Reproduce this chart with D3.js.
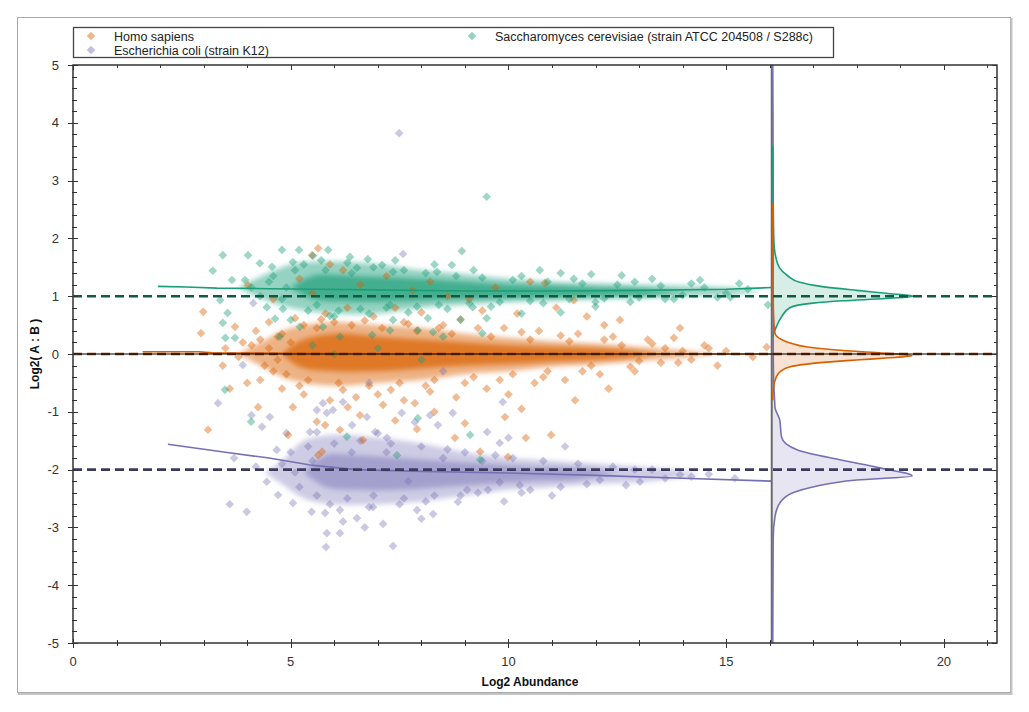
<!DOCTYPE html>
<html>
<head>
<meta charset="utf-8">
<script src="https://cdn.jsdelivr.net/npm/d3@7"></script>
<style>
body { margin: 0; background: #fff; }
text { font-family: "Liberation Sans", Arial, sans-serif; }
</style>
</head>
<body>
<div id="chart"></div>
<script>
// series names + colours
const seriesNames = ["Homo sapiens", "Escherichia coli (strain K12)", "Saccharomyces cerevisiae (strain ATCC 204508 / S288c)"];
const seriesColors = ["#d95f02", "#7570b3", "#1b9e77"];
const refColors = ["#7a3a0a", "#3b3a5e", "#0e5a43"];
const refValues = [0, -2, 1];

const xTicks = [0, 5, 10, 15, 20];
const yTicks = [-5, -4, -3, -2, -1, 0, 1, 2, 3, 4, 5];

// scatter points [log2 abundance, log2 ratio]
const homoPts = [[5.63,1.83],[5.49,1.71],[5.9,1.55],[6.2,1.45],[2.99,0.73],[2.94,0.36],[3.72,0.47],[3.44,-0.2],[4.02,1.19],[4.6,0.95],[5.2,1.3],[5.5,1.05],[6.6,1.2],[7.2,1.35],[7.8,1.1],[8.2,1.25],[8.6,1.0],[9.1,0.95],[9.7,1.15],[10.84,1.23],[10.5,1.25],[11.5,0.93],[11.1,0.8],[12.56,0.59],[13.94,0.45],[13.8,0.28],[12.2,0.5],[11.8,0.65],[10.2,0.7],[9.4,0.75],[8.9,0.6],[8.0,0.72],[7.4,0.8],[6.9,0.65],[6.3,0.8],[5.8,0.7],[5.1,0.62],[4.5,0.55],[4.2,0.4],[3.9,0.2],[4.7,0.3],[5.3,0.5],[6.0,0.55],[7.6,0.55],[8.4,0.45],[9.9,0.45],[10.7,0.4],[11.6,0.35],[12.4,0.3],[13.2,0.25],[14.5,0.15],[15.0,0.05],[15.61,-0.05],[15.93,0.12],[14.2,-0.1],[14.8,-0.2],[13.5,-0.15],[12.9,-0.3],[12.1,-0.35],[11.3,-0.45],[10.6,-0.5],[11.53,-0.8],[12.3,-0.6],[10.0,-0.7],[9.5,-0.6],[8.8,-0.75],[8.2,-0.65],[7.6,-0.8],[7.0,-0.7],[6.5,-0.75],[5.9,-0.8],[5.3,-0.7],[4.8,-0.6],[4.3,-0.45],[4.0,-0.5],[3.6,-0.6],[4.25,-0.92],[5.05,-0.92],[4.94,-1.4],[5.6,-1.17],[5.79,-1.23],[5.72,-1.69],[6.31,-0.92],[6.59,-1.06],[7.12,-0.88],[7.85,-0.85],[8.77,-1.45],[9.35,-1.69],[9.92,-1.09],[9.99,-1.78],[10.4,-1.45],[10.98,-1.4],[6.13,-1.31],[3.1,-1.31],[7.4,-1.15],[8.3,-1.0],[9.0,-1.2],[10.3,-0.95],[5.63,-1.75],[6.66,-1.49],[7.9,-1.3],[4.5,0.1],[4.4,-0.2],[4.8,0.35],[4.9,-0.35],[5.4,-0.45],[5.6,0.45],[6.1,-0.5],[6.4,0.5],[6.8,-0.55],[7.1,0.45],[7.5,-0.5],[7.9,0.4],[8.3,-0.45],[8.7,0.35],[9.2,-0.4],[9.6,0.3],[10.1,-0.35],[10.5,0.25],[10.9,-0.3],[11.4,0.22],[11.9,-0.2],[12.6,0.15],[13.0,-0.12],[13.6,0.1],[14.0,0.05],[3.5,0.1],[3.8,-0.05],[4.1,0.15],[4.6,-0.3],[5.0,0.2],[5.2,-0.55],[5.7,0.6],[6.2,-0.62],[6.7,0.58],[7.3,-0.62],[7.7,0.52],[8.1,-0.55],[8.5,0.5],[9.0,-0.5],[9.3,0.45],[9.8,-0.45],[10.3,0.38],[10.8,-0.4],[11.2,0.32],[11.7,-0.3],[12.2,0.25],[12.8,-0.22],[13.3,0.18],[13.9,-0.15],[14.6,0.1],[4.3,0.25],[4.7,-0.1]];

const ecoliPts = [[7.49,3.82],[7.58,1.73],[4.14,0.88],[3.9,-0.19],[6.8,-0.5],[8.5,-0.3],[3.33,-0.85],[4.1,-1.06],[4.34,-1.26],[4.52,-1.09],[4.68,-1.66],[4.45,-2.21],[3.6,-2.6],[3.99,-2.73],[4.71,-2.44],[5.05,-2.58],[5.48,-2.73],[5.79,-2.75],[6.13,-2.7],[5.83,-3.1],[6.13,-3.1],[5.81,-3.34],[7.12,-2.94],[7.35,-3.32],[6.52,-2.84],[6.89,-2.65],[7.9,-2.7],[8.27,-2.77],[8.84,-2.56],[9.05,-2.35],[9.53,-2.35],[9.8,-2.22],[10.26,-2.27],[5.83,-1.02],[5.6,-0.97],[5.97,-0.97],[6.41,-1.23],[6.75,-1.09],[7.0,-1.37],[7.55,-1.02],[7.85,-1.18],[8.2,-1.06],[8.38,-1.23],[8.72,-1.02],[9.51,-1.35],[9.8,-1.54],[9.87,-0.83],[6.94,-1.35],[7.21,-1.45],[5.44,-1.35],[4.9,-1.37],[5.6,-1.35],[5.74,-0.85],[6.2,-0.83],[4.8,-1.9],[5.0,-1.7],[5.2,-2.3],[5.4,-1.6],[5.6,-2.45],[6.0,-1.55],[6.3,-2.5],[6.6,-1.5],[6.9,-2.45],[7.3,-1.55],[7.6,-2.5],[8.0,-1.6],[8.3,-2.45],[8.6,-1.65],[9.0,-1.7],[9.3,-2.4],[9.7,-1.75],[10.1,-1.8],[10.5,-2.35],[10.8,-1.85],[11.2,-2.3],[11.6,-1.9],[12.1,-2.18],[12.4,-1.95],[12.7,-2.27],[13.02,-2.21],[13.3,-2.0],[13.6,-2.15],[13.94,-2.09],[14.2,-2.12],[15.2,-2.15],[6.2,-2.9],[8.0,-2.85],[9.9,-2.55],[11.0,-2.45],[3.7,-1.8],[4.2,-1.95],[6.7,-3.0],[7.7,-2.2],[10.0,-1.45],[11.3,-1.6],[5.1,-2.05],[5.5,-1.85],[5.9,-2.6],[6.4,-1.7],[6.8,-2.65],[7.2,-1.7],[7.5,-2.6],[8.1,-2.55],[8.5,-1.8],[8.9,-2.45],[9.4,-1.85],[10.3,-2.4],[11.8,-2.25],[12.9,-2.0],[14.6,-2.08]];

const yeastPts = [[3.44,1.71],[3.21,1.44],[3.65,1.28],[3.95,1.28],[4.02,1.71],[4.29,1.57],[4.57,1.51],[4.8,1.8],[5.19,1.8],[5.86,1.8],[5.51,1.7],[5.05,1.59],[3.38,0.93],[3.55,0.71],[3.44,0.54],[3.72,0.28],[4.45,0.81],[4.64,0.61],[4.82,0.78],[4.75,0.3],[5.21,0.47],[5.0,0.59],[5.74,0.47],[5.9,0.66],[6.13,0.3],[6.87,0.33],[7.28,0.41],[7.92,0.41],[8.27,0.38],[8.9,0.59],[9.4,0.36],[8.93,1.78],[8.7,1.54],[8.36,1.42],[6.77,1.64],[7.1,1.54],[7.35,1.42],[6.36,1.68],[6.52,1.49],[7.28,0.85],[7.35,0.59],[8.15,0.62],[9.18,0.81],[9.5,0.62],[8.5,0.3],[9.5,2.72],[10.72,1.45],[11.2,1.4],[11.9,1.38],[12.6,1.36],[13.3,1.3],[14.4,1.28],[15.3,1.22],[10.3,0.7],[11.2,0.72],[12.0,0.82],[12.8,0.9],[13.8,0.95],[14.8,0.98],[15.96,0.85],[4.09,-1.17],[6.29,-1.43],[7.92,-1.11],[9.12,-1.4],[7.44,-1.75],[9.35,-1.83],[3.49,-0.62],[3.5,0.28],[4.3,1.0],[4.6,1.35],[4.9,1.15],[5.3,1.55],[5.6,0.85],[5.8,1.45],[6.1,0.75],[6.3,1.58],[6.6,0.78],[6.9,1.5],[7.2,0.8],[7.6,1.45],[7.9,0.82],[8.1,1.4],[8.4,0.85],[8.8,1.35],[9.1,0.88],[9.4,1.32],[9.8,0.9],[10.1,1.28],[10.5,0.92],[10.9,1.25],[11.4,0.95],[11.7,1.22],[12.2,0.96],[12.5,1.2],[13.0,0.98],[13.5,1.18],[14.0,1.02],[14.5,1.15],[15.0,1.05],[15.5,1.12],[6.0,0.0],[7.0,0.1],[8.0,-0.1],[5.5,0.15],[4.1,1.15],[4.5,1.25],[4.8,0.95],[5.1,1.45],[5.4,0.75],[5.7,1.62],[6.0,0.65],[6.4,1.4],[6.8,0.7],[7.4,1.62],[7.7,0.72],[8.3,1.55],[8.6,0.78],[9.2,1.45],[9.6,0.82],[10.3,1.35],[10.8,0.88],[11.5,1.3],[12.0,0.9],[12.9,1.25],[13.6,0.95],[14.2,1.22],[15.1,0.98]];

// saturated core of each cloud [x, low, high], outer and inner
const homoCoreOuter = [[3.8,0,0],[4.3,-0.2,0.2],[5,-0.45,0.45],[6,-0.55,0.55],[7,-0.5,0.5],[8,-0.45,0.45],[9,-0.35,0.35],[10,-0.3,0.28],[11,-0.22,0.22],[12,-0.18,0.18],[13,-0.12,0.12],[14,-0.06,0.06],[14.8,0,0]];
const homoCoreInner = [[4.8,0,0],[5.2,-0.22,0.22],[6,-0.3,0.35],[7,-0.3,0.3],[8,-0.25,0.25],[9,-0.2,0.2],[10,-0.17,0.15],[11,-0.13,0.12],[12,-0.1,0.1],[12.8,-0.06,0.06],[13.4,0,0]];
const ecoliCoreOuter = [[4.4,-2.05,-2.05],[4.8,-2.25,-1.85],[5.3,-2.5,-1.5],[6,-2.6,-1.4],[7,-2.6,-1.45],[8,-2.55,-1.55],[9,-2.45,-1.7],[10,-2.35,-1.8],[11,-2.3,-1.85],[12,-2.25,-1.9],[13,-2.22,-1.95],[13.8,-2.15,-2.0],[14.4,-2.08,-2.08]];
const ecoliCoreInner = [[5.3,-2.05,-2.05],[5.8,-2.3,-1.75],[6.5,-2.35,-1.75],[7.5,-2.35,-1.8],[8.5,-2.3,-1.85],[9.5,-2.25,-1.9],[10.5,-2.2,-1.95],[11.5,-2.18,-1.97],[12,-2.12,-2.0],[12.5,-2.07,-2.07]];
const yeastCoreOuter = [[3.8,1.15,1.15],[4.2,1.0,1.3],[5,0.8,1.55],[6,0.7,1.6],[7,0.7,1.55],[8,0.8,1.45],[9,0.85,1.38],[10,0.9,1.3],[11,0.92,1.25],[12,0.95,1.22],[13,0.97,1.2],[14,1.0,1.18],[15.2,1.03,1.14],[15.8,1.09,1.09]];
const yeastCoreInner = [[5.0,1.15,1.15],[5.5,0.95,1.35],[6.5,0.9,1.35],[8,0.92,1.3],[9,0.95,1.25],[10,0.97,1.2],[11,0.98,1.18],[12,1.0,1.15],[13,1.01,1.13],[13.5,1.03,1.1],[14.1,1.07,1.07]];

// fitted trend lines
const homoTrend = [[1.6,0.04],[2.9,0.04],[3.2,0.02],[5,0.01],[8,0.0],[12,0.0],[16.05,0.0]];
const ecoliTrend = [[2.18,-1.56],[3.5,-1.7],[4.5,-1.8],[5.45,-1.92],[6.5,-2.0],[8,-2.03],[10,-2.06],[12,-2.1],[14,-2.15],[16.05,-2.2]];
const yeastTrend = [[1.95,1.17],[2.6,1.16],[3.3,1.14],[4.5,1.13],[5.5,1.12],[7,1.11],[9,1.09],[11,1.09],[13,1.1],[15,1.12],[16.05,1.15]];

// ratio densities [log2 ratio, width in x units from the baseline]
const densityBase = 16.07;
const homoDensity = [[2.6,0],[1.0,0.01],[0.5,0.03],[0.36,0.05],[0.25,0.2],[0.19,0.4],[0.12,0.8],[0.07,1.47],[0.02,2.45],[-0.03,3.2],[-0.07,2.6],[-0.1,2.0],[-0.14,1.24],[-0.22,0.4],[-0.3,0.18],[-0.4,0.08],[-0.62,0.01],[-0.8,0]];
const ecoliDensity = [[5,0],[3.0,0.01],[0.0,0.01],[-0.92,0.05],[-1.14,0.16],[-1.43,0.2],[-1.55,0.3],[-1.66,0.57],[-1.83,1.54],[-1.97,2.46],[-2.11,3.2],[-2.18,1.93],[-2.3,0.92],[-2.4,0.46],[-2.58,0.16],[-2.82,0.05],[-3.2,0.01],[-5,0]];
const yeastDensity = [[3.6,0],[2.6,0.01],[1.9,0.03],[1.76,0.05],[1.5,0.15],[1.35,0.35],[1.24,0.62],[1.17,1.1],[1.1,1.93],[1.05,2.6],[1.0,3.24],[0.96,2.6],[0.92,1.6],[0.88,0.92],[0.8,0.39],[0.64,0.2],[0.5,0.1],[0.41,0.05],[0.3,0]];

const width = 1029, height = 712;
const margin = {top: 65, right: 32, bottom: 69, left: 73};

const svg = d3.select("#chart").append("svg")
  .attr("width", width)
  .attr("height", height);

// outer frame
svg.append("rect").attr("x", 17.5).attr("y", 17.5).attr("width", 993).attr("height", 675)
  .attr("fill", "#fff").attr("stroke", "#a8a8a8");
svg.append("path").attr("d", "M1011.5,18V694H18").attr("fill", "none").attr("stroke", "#c4c4c4").attr("stroke-width", 2);

const x = d3.scaleLinear().domain([0, 21.22]).range([margin.left, width - margin.right]);
const y = d3.scaleLinear().domain([-5, 5]).range([height - margin.bottom, margin.top]);

const defs = svg.append("defs");
defs.append("clipPath").attr("id", "clip").append("rect")
  .attr("x", x.range()[0]).attr("y", y.range()[1])
  .attr("width", x.range()[1] - x.range()[0]).attr("height", y.range()[0] - y.range()[1]);
defs.append("filter").attr("id", "soft")
  .attr("x", "-10%").attr("y", "-50%").attr("width", "120%").attr("height", "200%")
  .append("feGaussianBlur").attr("stdDeviation", 2.5);

const plot = svg.append("g").attr("clip-path", "url(#clip)");

// cores
const coreArea = d3.area().curve(d3.curveCatmullRom)
  .x(d => x(d[0])).y0(d => y(d[1])).y1(d => y(d[2]));
const cores = [
  [ecoliCoreOuter, 1, 0.36], [ecoliCoreInner, 1, 0.48],
  [homoCoreOuter, 0, 0.48], [homoCoreInner, 0, 0.7],
  [yeastCoreOuter, 2, 0.46], [yeastCoreInner, 2, 0.68]
];
cores.forEach(c => {
  plot.append("path").datum(c[0])
    .attr("fill", seriesColors[c[1]]).attr("fill-opacity", c[2])
    .attr("filter", "url(#soft)")
    .attr("d", coreArea);
});

// scatter
const diamond = d3.symbol().type(d3.symbolDiamond2).size(48);
const scatter = [[ecoliPts, 1, 0.38], [homoPts, 0, 0.42], [yeastPts, 2, 0.42]];
scatter.forEach(s => {
  plot.append("g").selectAll("path")
    .data(s[0])
    .join("path")
    .attr("transform", d => `translate(${x(d[0])},${y(d[1])})`)
    .attr("d", diamond)
    .attr("fill", seriesColors[s[1]])
    .attr("fill-opacity", s[2]);
});

// trend lines
const line = d3.line().x(d => x(d[0])).y(d => y(d[1]));
[[homoTrend, 0], [ecoliTrend, 1], [yeastTrend, 2]].forEach(t => {
  plot.append("path").datum(t[0])
    .attr("fill", "none").attr("stroke", seriesColors[t[1]]).attr("stroke-width", 1.6)
    .attr("d", line);
});

// density baseline
plot.append("line")
  .attr("x1", x(densityBase) - 1).attr("x2", x(densityBase) - 1)
  .attr("y1", y(5)).attr("y2", y(-5))
  .attr("stroke", "#6a6a6a").attr("stroke-width", 2);

const densArea = d3.area().curve(d3.curveMonotoneY)
  .y(d => y(d[0])).x0(x(densityBase)).x1(d => x(densityBase + d[1]));
const densLine = d3.line().curve(d3.curveMonotoneY)
  .y(d => y(d[0])).x(d => x(densityBase + d[1]));
[[ecoliDensity, 1], [yeastDensity, 2], [homoDensity, 0]].forEach(dd => {
  const data = dd[0].slice().reverse();
  plot.append("path").datum(data)
    .attr("fill", seriesColors[dd[1]]).attr("fill-opacity", 0.18)
    .attr("d", densArea);
  plot.append("path").datum(data)
    .attr("fill", "none").attr("stroke", seriesColors[dd[1]]).attr("stroke-width", 1.6)
    .attr("d", densLine);
});

// reference ratios
refValues.forEach((v, i) => {
  plot.append("line")
    .attr("x1", x.range()[0]).attr("x2", x.range()[1])
    .attr("y1", y(v)).attr("y2", y(v))
    .attr("stroke", refColors[i]).attr("stroke-width", 2.6)
    .attr("stroke-dasharray", "9,5");
});
plot.append("line")
  .attr("x1", x.range()[0]).attr("x2", x.range()[1])
  .attr("y1", y(0)).attr("y2", y(0))
  .attr("stroke", "#000").attr("stroke-width", 1);

// axes frame
const axisColor = "#333";
const ax = svg.append("g").attr("stroke", axisColor).attr("fill", "none");
ax.append("rect")
  .attr("x", x.range()[0]).attr("y", y.range()[1])
  .attr("width", x.range()[1] - x.range()[0]).attr("height", y.range()[0] - y.range()[1])
  .attr("stroke-width", 1.5);

const xMinor = d3.range(0, 22, 1);
const yMinor = d3.range(-5, 5.01, 0.2).map(v => Math.round(v * 10) / 10);
xMinor.forEach(v => {
  const major = v % 5 === 0;
  const px = Math.round(x(v)) + 0.5;
  ax.append("line").attr("x1", px).attr("x2", px)
    .attr("y1", y(-5) - (major ? 4 : 3)).attr("y2", y(-5) + (major ? 5 : 3));
  ax.append("line").attr("x1", px).attr("x2", px)
    .attr("y1", y(5)).attr("y2", y(5) + (major ? 5 : 3));
});
yMinor.forEach(v => {
  const major = Math.abs(v - Math.round(v)) < 1e-6;
  const py = Math.round(y(v)) + 0.5;
  ax.append("line").attr("y1", py).attr("y2", py)
    .attr("x1", x(0) - (major ? 5 : 1)).attr("x2", x(0) + (major ? 5 : 4));
  ax.append("line").attr("y1", py).attr("y2", py)
    .attr("x1", x.range()[1]).attr("x2", x.range()[1] - (major ? 5 : 3));
});

// tick labels
svg.append("g").selectAll("text").data(xTicks).join("text")
  .attr("x", d => x(d)).attr("y", y(-5) + 23)
  .attr("text-anchor", "middle").attr("font-size", 13).attr("fill", "#333")
  .text(d => d);
svg.append("g").selectAll("text").data(yTicks).join("text")
  .attr("x", x(0) - 14).attr("y", d => y(d) + 4.5)
  .attr("text-anchor", "end").attr("font-size", 13).attr("fill", "#333")
  .text(d => d);

// axis titles
svg.append("text")
  .attr("x", 530).attr("y", 686)
  .attr("text-anchor", "middle").attr("font-size", 12).attr("font-weight", "bold").attr("fill", "#111")
  .text("Log2 Abundance");
svg.append("text")
  .attr("transform", `translate(39,${y(0)}) rotate(-90)`)
  .attr("text-anchor", "middle").attr("font-size", 12).attr("font-weight", "bold").attr("fill", "#111")
  .text("Log2( A : B )");

// legend
const legend = svg.append("g");
legend.append("rect").attr("x", 73.5).attr("y", 27.5).attr("width", 760).attr("height", 30)
  .attr("fill", "#fff").attr("stroke", "#444").attr("stroke-width", 1.3);
const legendPos = [[91, 36], [91, 50], [472, 36]];
seriesNames.forEach((name, i) => {
  legend.append("path")
    .attr("transform", `translate(${legendPos[i][0]},${legendPos[i][1]})`)
    .attr("d", diamond)
    .attr("fill", seriesColors[i]).attr("fill-opacity", 0.45);
  legend.append("text")
    .attr("x", legendPos[i][0] + 23).attr("y", legendPos[i][1] + 4.5)
    .attr("font-size", 12.5).attr("fill", "#222")
    .text(name);
});
</script>
</body>
</html>
